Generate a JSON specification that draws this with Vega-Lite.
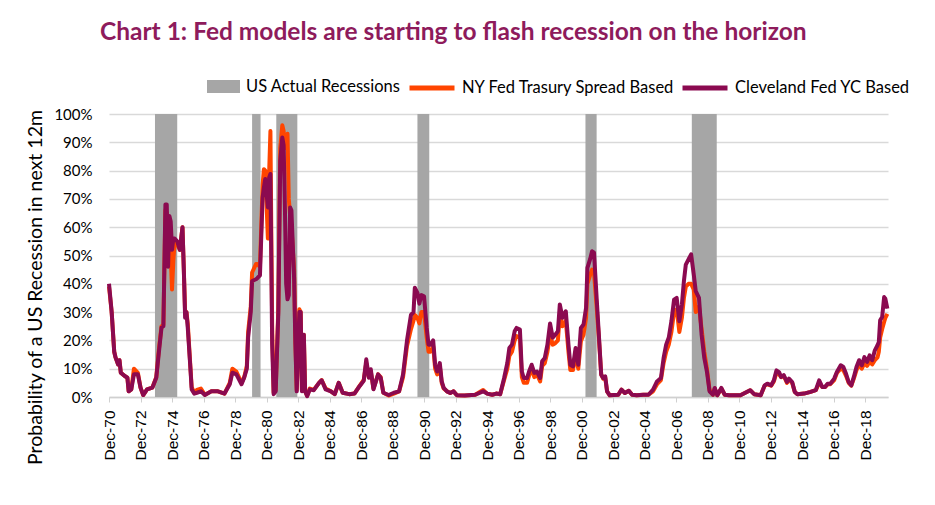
{
  "$schema": "https://vega.github.io/schema/vega-lite/v6.json",
  "width": 779,
  "height": 283,
  "autosize": "none",
  "padding": {"left": 109, "top": 114, "right": 47, "bottom": 108},
  "background": "white",
  "title": {
    "text": "Chart 1: Fed models are starting to flash recession on the horizon",
    "font": "Lato",
    "fontSize": 24.5,
    "fontWeight": "bold",
    "color": "#8E1B5C",
    "anchor": "start",
    "frame": "group",
    "dx": -9,
    "offset": 18
  },
  "config": {
    "view": {"stroke": null},
    "font": "Lato"
  },
  "datasets": {
    "recessions": [
      {"start": "1973-11-01", "end": "1975-04-01"},
      {"start": "1980-01-01", "end": "1980-07-15"},
      {"start": "1981-07-15", "end": "1982-11-15"},
      {"start": "1990-07-01", "end": "1991-04-01"},
      {"start": "2001-03-01", "end": "2001-11-15"},
      {"start": "2007-12-01", "end": "2009-07-01"}
    ],
    "models": [
      {"d": "1970-12-01", "cle": 40, "ny": 39},
      {"d": "1971-02-01", "cle": 30, "ny": 30},
      {"d": "1971-04-01", "cle": 16, "ny": 16},
      {"d": "1971-05-01", "cle": 14, "ny": 14},
      {"d": "1971-07-01", "cle": 11.5, "ny": 11.5},
      {"d": "1971-08-01", "cle": 13, "ny": 13},
      {"d": "1971-09-01", "cle": 8.6, "ny": 8.6},
      {"d": "1971-12-01", "cle": 7.4, "ny": 7.4},
      {"d": "1972-02-01", "cle": 6.8, "ny": 6.8},
      {"d": "1972-03-01", "cle": 2, "ny": 2},
      {"d": "1972-05-01", "cle": 2.7, "ny": 2.7},
      {"d": "1972-07-01", "cle": 8, "ny": 10},
      {"d": "1972-10-01", "cle": 8, "ny": 8.5},
      {"d": "1972-12-01", "cle": 3.3, "ny": 3.3},
      {"d": "1973-02-01", "cle": 0.7, "ny": 0.7},
      {"d": "1973-05-01", "cle": 2.7, "ny": 2.7},
      {"d": "1973-09-01", "cle": 3.3, "ny": 3.3},
      {"d": "1973-12-01", "cle": 6.8, "ny": 7},
      {"d": "1974-02-01", "cle": 16, "ny": 17},
      {"d": "1974-04-01", "cle": 24.5, "ny": 25},
      {"d": "1974-05-15", "cle": 25, "ny": 25.5},
      {"d": "1974-07-01", "cle": 68, "ny": 66},
      {"d": "1974-08-01", "cle": 68, "ny": 65},
      {"d": "1974-09-01", "cle": 46, "ny": 48},
      {"d": "1974-10-01", "cle": 64, "ny": 58},
      {"d": "1974-11-01", "cle": 62, "ny": 50},
      {"d": "1974-12-01", "cle": 52, "ny": 38},
      {"d": "1975-01-01", "cle": 56, "ny": 48},
      {"d": "1975-02-01", "cle": 56, "ny": 55},
      {"d": "1975-04-01", "cle": 55, "ny": 54},
      {"d": "1975-06-01", "cle": 52, "ny": 52},
      {"d": "1975-08-01", "cle": 60, "ny": 60},
      {"d": "1975-09-01", "cle": 45, "ny": 45},
      {"d": "1975-10-01", "cle": 28, "ny": 30},
      {"d": "1975-11-01", "cle": 30, "ny": 30},
      {"d": "1975-12-01", "cle": 24.5, "ny": 26},
      {"d": "1976-02-01", "cle": 10, "ny": 10.5},
      {"d": "1976-03-01", "cle": 2.7, "ny": 3.5},
      {"d": "1976-05-01", "cle": 1.2, "ny": 1.5},
      {"d": "1976-07-01", "cle": 1.5, "ny": 2.5},
      {"d": "1976-10-01", "cle": 2, "ny": 3},
      {"d": "1977-01-01", "cle": 0.7, "ny": 0.8},
      {"d": "1977-06-01", "cle": 2, "ny": 2},
      {"d": "1977-11-01", "cle": 2, "ny": 2},
      {"d": "1978-04-01", "cle": 1.2, "ny": 1.2},
      {"d": "1978-08-01", "cle": 4.5, "ny": 5},
      {"d": "1978-10-01", "cle": 8.6, "ny": 10},
      {"d": "1979-01-01", "cle": 8, "ny": 9},
      {"d": "1979-05-01", "cle": 4.5, "ny": 5},
      {"d": "1979-07-01", "cle": 6.8, "ny": 7},
      {"d": "1979-09-01", "cle": 10, "ny": 11},
      {"d": "1979-10-01", "cle": 21, "ny": 23},
      {"d": "1979-12-01", "cle": 30, "ny": 32},
      {"d": "1980-01-01", "cle": 41, "ny": 44},
      {"d": "1980-04-01", "cle": 41.6, "ny": 47},
      {"d": "1980-05-01", "cle": 42, "ny": 47},
      {"d": "1980-07-01", "cle": 43, "ny": 46},
      {"d": "1980-09-01", "cle": 70.5, "ny": 75},
      {"d": "1980-10-01", "cle": 74, "ny": 80.5},
      {"d": "1980-11-01", "cle": 77, "ny": 80},
      {"d": "1981-01-01", "cle": 67, "ny": 56},
      {"d": "1981-02-01", "cle": 77.6, "ny": 80},
      {"d": "1981-03-01", "cle": 78.8, "ny": 94},
      {"d": "1981-04-10", "cle": 18.6, "ny": 25},
      {"d": "1981-05-15", "cle": 1, "ny": 1.5},
      {"d": "1981-07-01", "cle": 2, "ny": 2.5},
      {"d": "1981-09-01", "cle": 30, "ny": 32},
      {"d": "1981-10-15", "cle": 83.5, "ny": 88},
      {"d": "1981-12-01", "cle": 91.7, "ny": 96},
      {"d": "1982-01-01", "cle": 89, "ny": 94},
      {"d": "1982-02-01", "cle": 66, "ny": 88},
      {"d": "1982-03-01", "cle": 40, "ny": 90},
      {"d": "1982-04-01", "cle": 34.5, "ny": 93},
      {"d": "1982-05-01", "cle": 36, "ny": 70},
      {"d": "1982-06-01", "cle": 67, "ny": 64},
      {"d": "1982-07-01", "cle": 66, "ny": 60},
      {"d": "1982-09-01", "cle": 42, "ny": 45},
      {"d": "1982-10-01", "cle": 18.6, "ny": 20},
      {"d": "1982-11-01", "cle": 2, "ny": 2.5},
      {"d": "1983-01-01", "cle": 30, "ny": 31},
      {"d": "1983-02-01", "cle": 30, "ny": 30},
      {"d": "1983-03-01", "cle": 2, "ny": 2.5},
      {"d": "1983-04-15", "cle": 22, "ny": 22},
      {"d": "1983-05-15", "cle": 2, "ny": 2},
      {"d": "1983-07-01", "cle": 0.3, "ny": 0.5},
      {"d": "1983-09-01", "cle": 2.7, "ny": 3},
      {"d": "1983-12-01", "cle": 2.4, "ny": 2.5},
      {"d": "1984-04-01", "cle": 5, "ny": 5},
      {"d": "1984-06-01", "cle": 5.9, "ny": 6},
      {"d": "1984-09-01", "cle": 2.7, "ny": 3},
      {"d": "1985-01-01", "cle": 2, "ny": 2},
      {"d": "1985-04-01", "cle": 1, "ny": 1},
      {"d": "1985-07-01", "cle": 5, "ny": 5},
      {"d": "1985-10-01", "cle": 1.5, "ny": 1.5},
      {"d": "1986-03-01", "cle": 1, "ny": 1},
      {"d": "1986-07-01", "cle": 1.2, "ny": 1.2},
      {"d": "1986-11-01", "cle": 3.9, "ny": 4},
      {"d": "1987-02-01", "cle": 5.7, "ny": 6},
      {"d": "1987-04-01", "cle": 13.3, "ny": 12},
      {"d": "1987-06-01", "cle": 6.8, "ny": 7},
      {"d": "1987-07-15", "cle": 9.8, "ny": 9},
      {"d": "1987-09-15", "cle": 2.7, "ny": 3},
      {"d": "1988-01-01", "cle": 8, "ny": 8},
      {"d": "1988-03-01", "cle": 6.8, "ny": 7},
      {"d": "1988-05-01", "cle": 1.5, "ny": 1.5},
      {"d": "1988-09-01", "cle": 0.7, "ny": 0.5},
      {"d": "1989-01-01", "cle": 1.5, "ny": 1.2},
      {"d": "1989-05-01", "cle": 2, "ny": 2},
      {"d": "1989-08-01", "cle": 8, "ny": 7},
      {"d": "1989-11-01", "cle": 20, "ny": 18},
      {"d": "1990-02-01", "cle": 29, "ny": 24},
      {"d": "1990-04-01", "cle": 30, "ny": 27},
      {"d": "1990-05-01", "cle": 38.6, "ny": 29},
      {"d": "1990-07-01", "cle": 36.8, "ny": 28},
      {"d": "1990-08-15", "cle": 33, "ny": 26},
      {"d": "1990-10-01", "cle": 36, "ny": 30},
      {"d": "1990-12-01", "cle": 35.6, "ny": 30},
      {"d": "1991-02-01", "cle": 24.4, "ny": 21},
      {"d": "1991-03-15", "cle": 18.5, "ny": 16},
      {"d": "1991-05-01", "cle": 18.5, "ny": 16},
      {"d": "1991-07-01", "cle": 20, "ny": 18},
      {"d": "1991-08-15", "cle": 11.4, "ny": 10},
      {"d": "1991-10-01", "cle": 9, "ny": 8},
      {"d": "1991-12-01", "cle": 12, "ny": 11},
      {"d": "1992-01-15", "cle": 5.5, "ny": 5},
      {"d": "1992-03-01", "cle": 3.2, "ny": 3},
      {"d": "1992-05-15", "cle": 2, "ny": 2},
      {"d": "1992-08-01", "cle": 1.4, "ny": 1.4},
      {"d": "1992-10-15", "cle": 2, "ny": 2},
      {"d": "1993-01-01", "cle": 0.6, "ny": 0.6},
      {"d": "1993-07-01", "cle": 0.5, "ny": 0.5},
      {"d": "1994-03-01", "cle": 0.8, "ny": 0.8},
      {"d": "1994-09-01", "cle": 2, "ny": 2.5},
      {"d": "1994-12-01", "cle": 1.2, "ny": 1.2},
      {"d": "1995-04-01", "cle": 0.8, "ny": 0.8},
      {"d": "1995-07-01", "cle": 1.2, "ny": 1.2},
      {"d": "1995-10-01", "cle": 1, "ny": 1},
      {"d": "1996-01-01", "cle": 6.7, "ny": 6},
      {"d": "1996-03-15", "cle": 12, "ny": 10},
      {"d": "1996-05-01", "cle": 17.3, "ny": 14.5},
      {"d": "1996-07-01", "cle": 18.5, "ny": 16},
      {"d": "1996-09-01", "cle": 23.2, "ny": 20},
      {"d": "1996-10-15", "cle": 24.4, "ny": 21.5},
      {"d": "1997-01-01", "cle": 23.8, "ny": 21},
      {"d": "1997-02-15", "cle": 9, "ny": 7},
      {"d": "1997-04-01", "cle": 6.7, "ny": 5},
      {"d": "1997-06-15", "cle": 6.7, "ny": 5},
      {"d": "1997-08-01", "cle": 9, "ny": 7.5},
      {"d": "1997-10-01", "cle": 11.4, "ny": 10},
      {"d": "1997-12-01", "cle": 8.5, "ny": 7},
      {"d": "1998-02-01", "cle": 9, "ny": 8},
      {"d": "1998-04-15", "cle": 6.7, "ny": 5.5},
      {"d": "1998-06-01", "cle": 12.6, "ny": 11},
      {"d": "1998-08-01", "cle": 13.8, "ny": 12},
      {"d": "1998-10-01", "cle": 18.5, "ny": 16},
      {"d": "1998-12-01", "cle": 26, "ny": 22},
      {"d": "1999-02-01", "cle": 21, "ny": 18.5},
      {"d": "1999-04-01", "cle": 22, "ny": 19},
      {"d": "1999-06-01", "cle": 23.2, "ny": 20},
      {"d": "1999-07-15", "cle": 32.7, "ny": 29},
      {"d": "1999-09-15", "cle": 28, "ny": 25},
      {"d": "1999-12-01", "cle": 30.3, "ny": 27},
      {"d": "2000-02-01", "cle": 18.5, "ny": 16},
      {"d": "2000-03-15", "cle": 11.4, "ny": 9.5},
      {"d": "2000-05-15", "cle": 10.8, "ny": 9.5},
      {"d": "2000-07-15", "cle": 17.3, "ny": 15},
      {"d": "2000-09-15", "cle": 11.4, "ny": 10},
      {"d": "2000-11-15", "cle": 24.4, "ny": 19.7},
      {"d": "2001-01-15", "cle": 25.6, "ny": 22},
      {"d": "2001-03-15", "cle": 31.5, "ny": 28},
      {"d": "2001-04-15", "cle": 45.6, "ny": 40},
      {"d": "2001-06-15", "cle": 48.6, "ny": 43},
      {"d": "2001-08-01", "cle": 51.5, "ny": 45},
      {"d": "2001-09-15", "cle": 51, "ny": 44},
      {"d": "2001-11-15", "cle": 35, "ny": 32},
      {"d": "2002-01-01", "cle": 23.2, "ny": 22},
      {"d": "2002-03-01", "cle": 7.9, "ny": 8},
      {"d": "2002-04-15", "cle": 6.7, "ny": 6.5},
      {"d": "2002-06-01", "cle": 7.3, "ny": 7},
      {"d": "2002-07-15", "cle": 2, "ny": 2},
      {"d": "2002-09-15", "cle": 0.6, "ny": 0.6},
      {"d": "2003-04-01", "cle": 0.8, "ny": 0.8},
      {"d": "2003-06-15", "cle": 2.6, "ny": 2.6},
      {"d": "2003-09-01", "cle": 1.4, "ny": 1.4},
      {"d": "2003-12-01", "cle": 2.2, "ny": 2.2},
      {"d": "2004-02-15", "cle": 0.8, "ny": 0.8},
      {"d": "2004-06-01", "cle": 0.6, "ny": 0.6},
      {"d": "2004-11-01", "cle": 0.8, "ny": 0.8},
      {"d": "2005-03-01", "cle": 0.8, "ny": 0.8},
      {"d": "2005-06-15", "cle": 2.6, "ny": 2},
      {"d": "2005-09-15", "cle": 5.5, "ny": 4.5},
      {"d": "2005-12-15", "cle": 6.7, "ny": 6},
      {"d": "2006-02-15", "cle": 13.8, "ny": 12},
      {"d": "2006-04-15", "cle": 18.5, "ny": 16},
      {"d": "2006-06-15", "cle": 21, "ny": 18.5},
      {"d": "2006-08-15", "cle": 26.8, "ny": 23},
      {"d": "2006-10-15", "cle": 34.4, "ny": 30},
      {"d": "2006-12-15", "cle": 35, "ny": 31},
      {"d": "2007-02-15", "cle": 26.8, "ny": 23},
      {"d": "2007-04-15", "cle": 32.7, "ny": 28},
      {"d": "2007-06-01", "cle": 41, "ny": 35},
      {"d": "2007-07-15", "cle": 46.8, "ny": 39},
      {"d": "2007-09-15", "cle": 48.6, "ny": 40},
      {"d": "2007-11-15", "cle": 50.4, "ny": 40},
      {"d": "2008-01-15", "cle": 43.3, "ny": 38},
      {"d": "2008-03-01", "cle": 37.4, "ny": 30},
      {"d": "2008-05-15", "cle": 35, "ny": 32},
      {"d": "2008-07-15", "cle": 22, "ny": 24},
      {"d": "2008-09-15", "cle": 13.8, "ny": 16},
      {"d": "2008-11-15", "cle": 9, "ny": 10},
      {"d": "2009-01-15", "cle": 2, "ny": 2.5},
      {"d": "2009-04-01", "cle": 0.8, "ny": 0.8},
      {"d": "2009-05-15", "cle": 3.2, "ny": 3},
      {"d": "2009-07-15", "cle": 0.6, "ny": 0.6},
      {"d": "2009-10-15", "cle": 3.2, "ny": 3},
      {"d": "2010-01-01", "cle": 0.8, "ny": 0.8},
      {"d": "2010-04-15", "cle": 0.6, "ny": 0.6},
      {"d": "2011-01-01", "cle": 0.6, "ny": 0.6},
      {"d": "2011-08-15", "cle": 2.4, "ny": 2.4},
      {"d": "2011-11-15", "cle": 1, "ny": 1},
      {"d": "2012-04-15", "cle": 0.6, "ny": 0.6},
      {"d": "2012-07-15", "cle": 4.1, "ny": 4},
      {"d": "2012-09-15", "cle": 4.7, "ny": 4.5},
      {"d": "2012-12-15", "cle": 4.1, "ny": 4},
      {"d": "2013-02-15", "cle": 5.9, "ny": 5.5},
      {"d": "2013-04-15", "cle": 9.4, "ny": 8.5},
      {"d": "2013-06-15", "cle": 8.8, "ny": 8},
      {"d": "2013-08-01", "cle": 7.1, "ny": 7},
      {"d": "2013-10-01", "cle": 7.7, "ny": 7.5},
      {"d": "2013-12-15", "cle": 5.3, "ny": 5},
      {"d": "2014-02-01", "cle": 6.5, "ny": 6},
      {"d": "2014-04-15", "cle": 5.3, "ny": 5},
      {"d": "2014-06-15", "cle": 1.8, "ny": 1.8},
      {"d": "2014-08-15", "cle": 1, "ny": 1},
      {"d": "2015-01-15", "cle": 1.2, "ny": 1.2},
      {"d": "2015-06-15", "cle": 1.8, "ny": 1.8},
      {"d": "2015-10-15", "cle": 2.4, "ny": 2.4},
      {"d": "2016-01-01", "cle": 5.9, "ny": 5},
      {"d": "2016-03-15", "cle": 3.5, "ny": 3.5},
      {"d": "2016-05-15", "cle": 3.5, "ny": 3.5},
      {"d": "2016-07-15", "cle": 4.7, "ny": 4.5},
      {"d": "2016-09-15", "cle": 4.7, "ny": 4.5},
      {"d": "2016-12-15", "cle": 6.5, "ny": 6},
      {"d": "2017-02-15", "cle": 8.8, "ny": 8.5},
      {"d": "2017-05-15", "cle": 11.2, "ny": 10},
      {"d": "2017-07-15", "cle": 10.6, "ny": 9.5},
      {"d": "2017-09-15", "cle": 8.2, "ny": 7.5},
      {"d": "2017-11-15", "cle": 5.3, "ny": 5},
      {"d": "2018-01-15", "cle": 4.1, "ny": 4},
      {"d": "2018-03-15", "cle": 7.1, "ny": 6.5},
      {"d": "2018-05-15", "cle": 10.6, "ny": 9.5},
      {"d": "2018-07-15", "cle": 13, "ny": 11.5},
      {"d": "2018-09-15", "cle": 11.2, "ny": 10},
      {"d": "2018-11-15", "cle": 14.1, "ny": 12},
      {"d": "2019-01-15", "cle": 12.4, "ny": 11},
      {"d": "2019-03-15", "cle": 14.7, "ny": 12.5},
      {"d": "2019-05-15", "cle": 13, "ny": 11.5},
      {"d": "2019-07-15", "cle": 16.5, "ny": 13},
      {"d": "2019-09-15", "cle": 18.3, "ny": 14},
      {"d": "2019-10-15", "cle": 19.4, "ny": 16},
      {"d": "2019-11-15", "cle": 27.1, "ny": 21},
      {"d": "2020-01-01", "cle": 28.3, "ny": 24},
      {"d": "2020-02-15", "cle": 35.3, "ny": 26.5},
      {"d": "2020-03-15", "cle": 34.7, "ny": 28},
      {"d": "2020-04-30", "cle": 31.2, "ny": 29.4}
    ]
  },
  "encoding": {
    "x": {
      "field": "start",
      "type": "temporal",
      "scale": {"domain": ["1970-12-01", "2020-05-15"]},
      "axis": {
        "title": null,
        "values": [
          {"year": 1970, "month": 12, "date": 1}, {"year": 1972, "month": 12, "date": 1},
          {"year": 1974, "month": 12, "date": 1}, {"year": 1976, "month": 12, "date": 1},
          {"year": 1978, "month": 12, "date": 1}, {"year": 1980, "month": 12, "date": 1},
          {"year": 1982, "month": 12, "date": 1}, {"year": 1984, "month": 12, "date": 1},
          {"year": 1986, "month": 12, "date": 1}, {"year": 1988, "month": 12, "date": 1},
          {"year": 1990, "month": 12, "date": 1}, {"year": 1992, "month": 12, "date": 1},
          {"year": 1994, "month": 12, "date": 1}, {"year": 1996, "month": 12, "date": 1},
          {"year": 1998, "month": 12, "date": 1}, {"year": 2000, "month": 12, "date": 1},
          {"year": 2002, "month": 12, "date": 1}, {"year": 2004, "month": 12, "date": 1},
          {"year": 2006, "month": 12, "date": 1}, {"year": 2008, "month": 12, "date": 1},
          {"year": 2010, "month": 12, "date": 1}, {"year": 2012, "month": 12, "date": 1},
          {"year": 2014, "month": 12, "date": 1}, {"year": 2016, "month": 12, "date": 1},
          {"year": 2018, "month": 12, "date": 1}
        ],
        "format": "%b-%y",
        "labelAngle": 270,
        "labelFont": "Liberation Sans",
        "labelFontSize": 15.5,
        "labelColor": "#000000",
        "labelPadding": 8,
        "labelOverlap": false,
        "labelFlush": false,
        "grid": false,
        "domainColor": "#D0D0D0",
        "domainWidth": 1.5,
        "tickColor": "#D0D0D0",
        "tickSize": 5
      }
    },
    "y": {
      "type": "quantitative",
      "scale": {"domain": [0, 100], "nice": false},
      "axis": {
        "title": "Probability of a US Recession in next 12m",
        "values": [0, 10, 20, 30, 40, 50, 60, 70, 80, 90, 100],
        "labelExpr": "datum.value + '%'",
        "labelOverlap": false,
        "labelFont": "Lato",
        "labelFontSize": 15,
        "labelColor": "#000000",
        "labelPadding": 17,
        "domain": false,
        "tickSize": 0,
        "tickOpacity": 0,
        "grid": true,
        "gridColor": "#D9D9D9",
        "gridWidth": 1.5,
        "gridOpacity": 1,
        "titleFont": "Lato",
        "titleFontSize": 19.5,
        "titleFontWeight": "normal",
        "titleColor": "#000000",
        "titleAngle": 270,
        "titleAlign": "center",
        "titleBaseline": "middle",
        "titleX": -74,
        "titleY": 173
      }
    }
  },
  "layer": [
    {
      "data": {"name": "recessions"},
      "mark": {"type": "rect"},
      "encoding": {
        "x": {"field": "start", "type": "temporal"},
        "x2": {"field": "end"},
        "y": {"datum": 0, "type": "quantitative"},
        "y2": {"datum": 100},
        "fill": {
          "datum": "US Actual Recessions",
          "type": "nominal",
          "scale": {"domain": ["US Actual Recessions"], "range": ["#A6A6A6"]},
          "legend": {
            "title": null,
            "orient": "none",
            "legendX": 98,
            "legendY": -44,
            "symbolType": "M-1,-0.4H1V0.4H-1Z",
            "symbolSize": 1089,
            "symbolOpacity": 1,
            "symbolStrokeWidth": 0,
            "labelFont": "Lato",
            "labelFontSize": 16.5,
            "labelLimit": 400,
            "labelColor": "#000000",
            "labelOffset": 6
          }
        }
      }
    },
    {
      "data": {"name": "models"},
      "mark": {"type": "line", "strokeWidth": 4, "strokeJoin": "round"},
      "encoding": {
        "x": {"field": "d", "type": "temporal"},
        "y": {"field": "ny", "type": "quantitative"},
        "stroke": {
          "datum": "NY Fed Trasury Spread Based",
          "type": "nominal",
          "scale": {
            "domain": ["NY Fed Trasury Spread Based", "Cleveland Fed YC Based"],
            "range": ["#FF4500", "#8B0A50"]
          },
          "legend": {
            "title": null,
            "orient": "none",
            "direction": "horizontal",
            "legendX": 298,
            "legendY": -51,
            "symbolType": "stroke",
            "symbolSize": 2025,
            "symbolStrokeWidth": 5,
            "labelFont": "Lato",
            "labelFontSize": 16.5,
            "labelLimit": 400,
            "labelColor": "#000000",
            "labelOffset": 5,
            "columnPadding": -3
          }
        }
      }
    },
    {
      "data": {"name": "models"},
      "mark": {"type": "line", "strokeWidth": 4, "strokeJoin": "round"},
      "encoding": {
        "x": {"field": "d", "type": "temporal"},
        "y": {"field": "cle", "type": "quantitative"},
        "stroke": {"datum": "Cleveland Fed YC Based", "type": "nominal"}
      }
    }
  ]
}
